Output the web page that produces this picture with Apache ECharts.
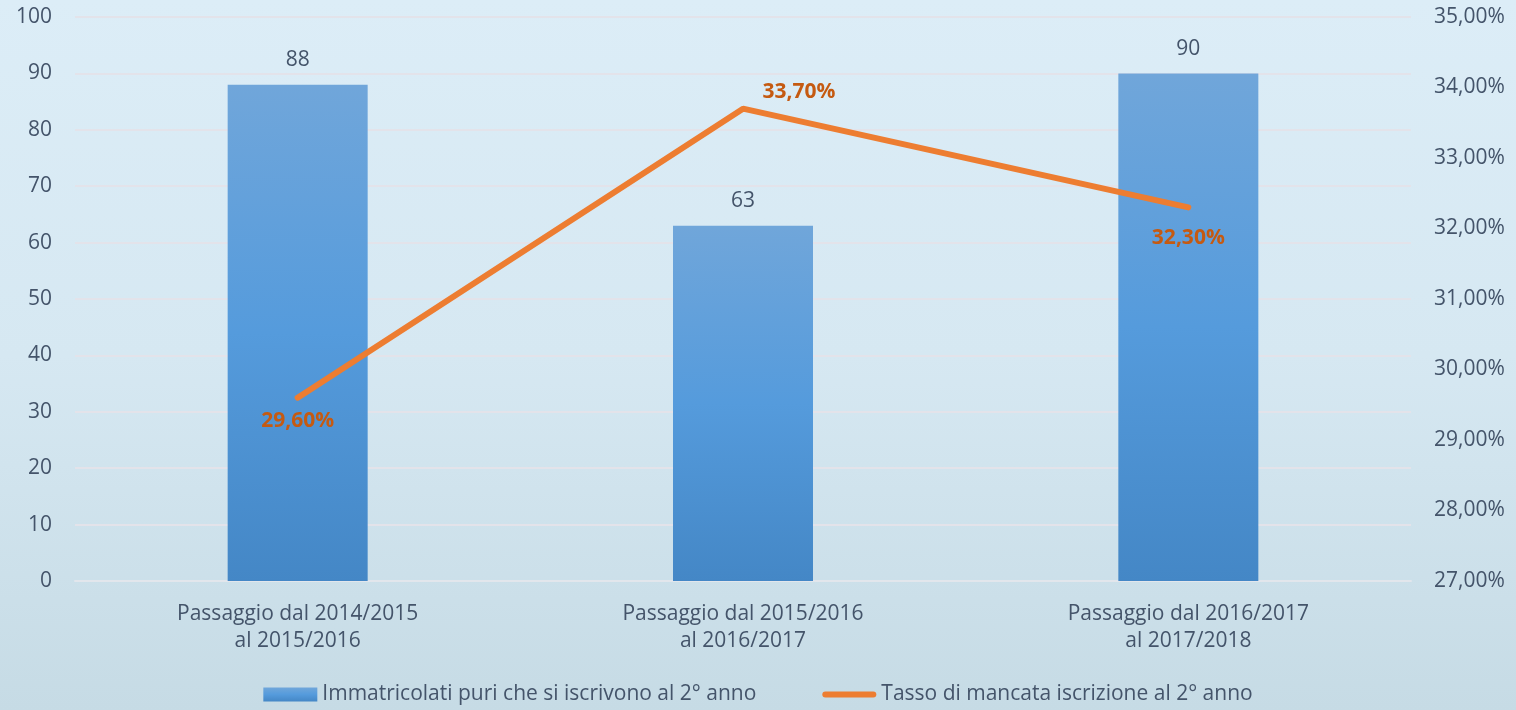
<!DOCTYPE html>
<html>
<head>
<meta charset="utf-8">
<script src="https://cdn.jsdelivr.net/npm/echarts@6/dist/echarts.min.js"></script>
<style>
  html, body { margin: 0; padding: 0; }
  #chart {
    width: 1516px;
    height: 710px;
    background: linear-gradient(to bottom, #dcedf7 0%, #d6e8f2 50%, #c6dbe5 100%);
  }
</style>
</head>
<body>
<div id="chart"></div>
<script>
const categories = [
  'Passaggio dal 2014/2015\nal 2015/2016',
  'Passaggio dal 2015/2016\nal 2016/2017',
  'Passaggio dal 2016/2017\nal 2017/2018'
];
const iscritti = [88, 63, 90];
const tassoMancata = [29.6, 33.7, 32.3];

const nameBar = 'Immatricolati puri che si iscrivono al 2° anno';
const nameLine = 'Tasso di mancata iscrizione al 2° anno';

const fmtPct = (v, d) => v.toFixed(d).replace('.', ',') + '%';

const chart = echarts.init(document.getElementById('chart'));
const textColor = '#44546a';
const fontFamily = 'Open Sans, Lato, sans-serif';

// posizione etichette della linea (sotto, sopra-destra, sotto)
const lineLabels = [
  { position: 'bottom', distance: 12 },
  { position: 'top', distance: 5, offset: [56, 0] },
  { position: 'bottom', distance: 19 }
];

chart.setOption({
  backgroundColor: 'transparent',
  textStyle: { fontFamily: fontFamily },
  grid: { left: 75, right: 105, top: 17, bottom: 129 },
  legend: {
    bottom: 0,
    left: 'center',
    itemGap: 66,
    itemWidth: 54,
    itemHeight: 14,
    textStyle: { color: textColor, fontSize: 21, fontFamily: fontFamily, padding: [0, 0, 0, 0] },
    data: [
      { name: nameBar, icon: 'rect' },
      {
        name: nameLine,
        icon: 'path://M3,0 L51,0 A3,3 0 0 1 51,6 L3,6 A3,3 0 0 1 3,0 Z',
        itemStyle: { color: '#ed7d31', opacity: 1 }
      }
    ]
  },
  xAxis: {
    type: 'category',
    data: categories,
    axisLine: { lineStyle: { color: '#e2e6ec', width: 2 } },
    axisTick: { show: false },
    axisLabel: {
      color: textColor,
      fontSize: 21,
      lineHeight: 27,
      margin: 20,
      interval: 0
    }
  },
  yAxis: [
    {
      type: 'value',
      min: 0,
      max: 100,
      interval: 10,
      axisLine: { show: false },
      axisTick: { show: false },
      axisLabel: { color: textColor, fontSize: 21, margin: 23 },
      splitLine: { lineStyle: { color: '#e3e3ea', width: 2 } }
    },
    {
      type: 'value',
      min: 27,
      max: 35,
      interval: 1,
      axisLine: { show: false },
      axisTick: { show: false },
      axisLabel: {
        color: textColor,
        fontSize: 21,
        margin: 23,
        formatter: (v) => fmtPct(v, 2)
      },
      splitLine: { show: false }
    }
  ],
  series: [
    {
      name: nameBar,
      type: 'bar',
      data: iscritti,
      barWidth: 140,
      itemStyle: {
        color: new echarts.graphic.LinearGradient(0, 0, 0, 1, [
          { offset: 0, color: '#70a6da' },
          { offset: 0.5, color: '#559bdc' },
          { offset: 1, color: '#4487c6' }
        ])
      },
      label: {
        show: true,
        position: 'top',
        distance: 14,
        color: textColor,
        fontSize: 21
      }
    },
    {
      name: nameLine,
      type: 'line',
      yAxisIndex: 1,
      symbol: 'circle',
      symbolSize: 2,
      showSymbol: true,
      lineStyle: { color: '#ed7d31', width: 6, cap: 'round' },
      itemStyle: { color: '#ed7d31' },
      label: {
        show: true,
        color: '#c55a11',
        fontWeight: 'bold',
        fontSize: 21,
        formatter: (p) => fmtPct(p.value, 2)
      },
      data: tassoMancata.map((v, i) => ({ value: v, label: lineLabels[i] }))
    }
  ]
});
</script>
</body>
</html>
